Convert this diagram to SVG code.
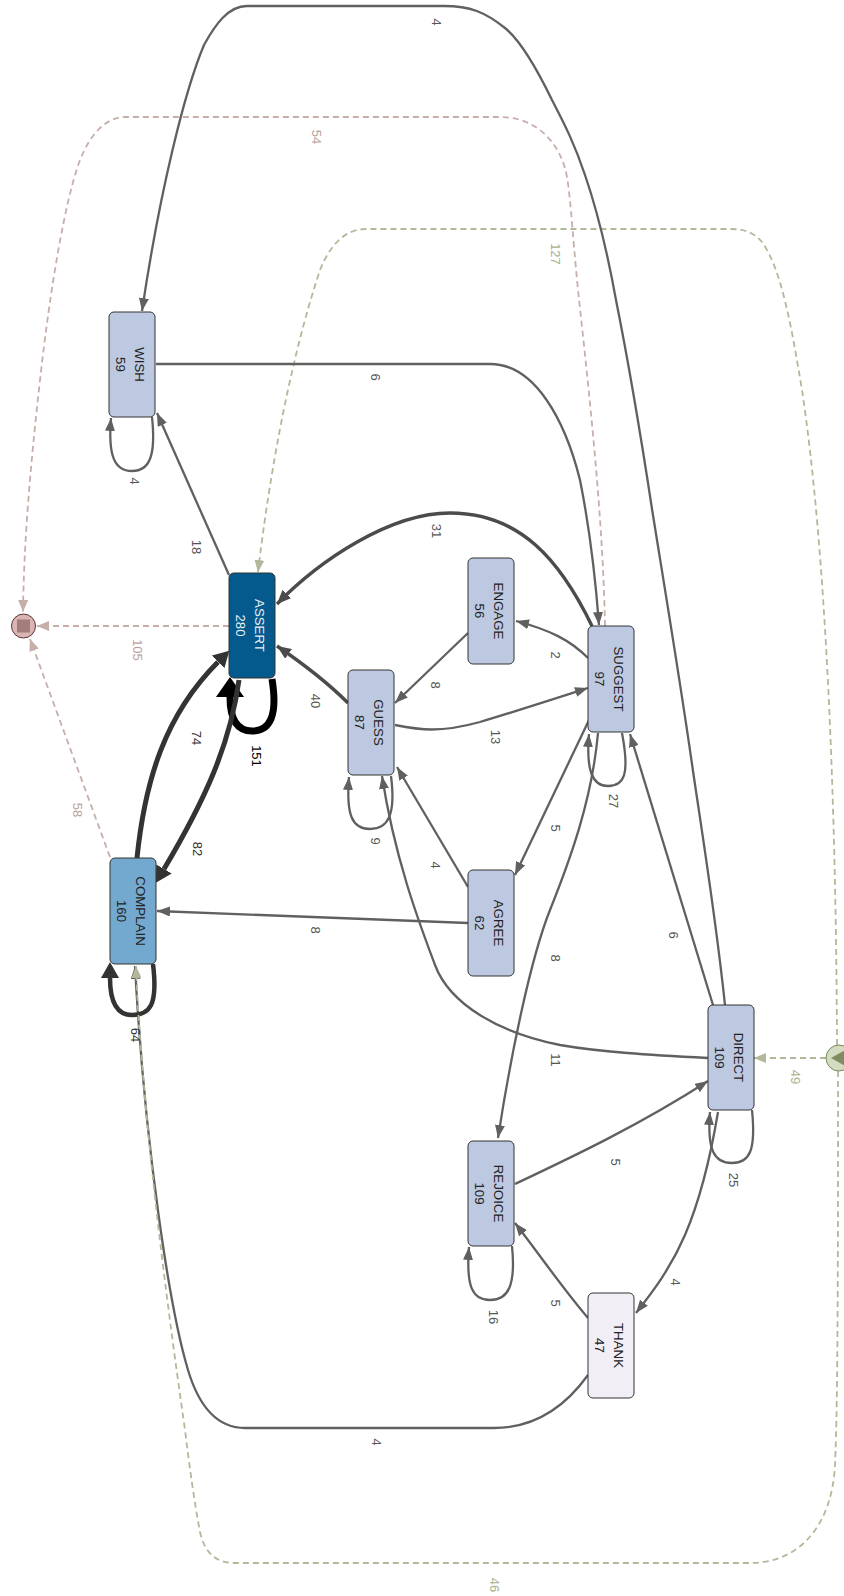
<svg xmlns="http://www.w3.org/2000/svg" width="844" height="1596" viewBox="0 0 844 1596">
<style>
.e{fill:none;stroke:#606060;stroke-width:2.3}
.e3{fill:none;stroke:#4b4b4b;stroke-width:3.4}
.ed{fill:none;stroke:#333;stroke-width:5}
.eb{fill:none;stroke:#000;stroke-width:7}
.ep{fill:none;stroke:#c6afa9;stroke-width:1.8;stroke-dasharray:6 4}
.eg{fill:none;stroke:#b1b99a;stroke-width:1.8;stroke-dasharray:6 4}
.n rect{stroke:#333;stroke-width:1}
.nl{fill:#bdc9e1}
.nt{font-family:"Liberation Sans",Arial,sans-serif;font-size:13.3px;fill:#222;text-anchor:middle}
.l{font-family:"Liberation Sans",Arial,sans-serif;font-size:13px;fill:#555;text-anchor:middle;dominant-baseline:central}
.lp{fill:#b9a19c}
.lg{fill:#a6b08e}
</style>
<defs>
<marker id="mg" markerUnits="userSpaceOnUse" viewBox="0 0 13 10" markerWidth="13" markerHeight="10" refX="13" refY="5" orient="auto"><path d="M0,0L13,5L0,10z" fill="#606060"/></marker>
<marker id="mg3" markerUnits="userSpaceOnUse" viewBox="0 0 14 12" markerWidth="14" markerHeight="12" refX="14" refY="6" orient="auto"><path d="M0,0L14,6L0,12z" fill="#4b4b4b"/></marker>
<marker id="md" markerUnits="userSpaceOnUse" viewBox="0 0 16 18" markerWidth="16" markerHeight="18" refX="0" refY="9" orient="auto"><path d="M0,0L16,9L0,18z" fill="#333"/></marker>
<marker id="mb" markerUnits="userSpaceOnUse" viewBox="0 0 20 28" markerWidth="20" markerHeight="28" refX="0" refY="14" orient="auto"><path d="M0,0L20,14L0,28z" fill="#000"/></marker>
<marker id="mp" markerUnits="userSpaceOnUse" viewBox="0 0 12 10" markerWidth="12" markerHeight="10" refX="12" refY="5" orient="auto"><path d="M0,0L12,5L0,10z" fill="#c6afa9"/></marker>
<marker id="mgr" markerUnits="userSpaceOnUse" viewBox="0 0 12 10" markerWidth="12" markerHeight="10" refX="12" refY="5" orient="auto"><path d="M0,0L12,5L0,10z" fill="#b1b99a"/></marker>
</defs>

<g id="connectors">
<path class="ep" marker-end="url(#mp)" d="M605,626 C603,520 590,400 578,290 C572,230 570,185 565,168 C555,135 530,117 500,117 L126,117 C105,117 90,135 80,160 C65,200 50,290 40,380 C30,470 24,540 23,612"/>
<path class="ep" marker-end="url(#mp)" d="M229,626 L37,626"/>
<path class="ep" marker-end="url(#mp)" d="M110,857 L30,639"/>
<path class="eg" marker-end="url(#mgr)" d="M837,1045 C836,800 826,550 802,390 C792,330 782,270 762,242 C754,233 745,229 731,229 L366,229 C345,229 330,245 320,270 C300,330 275,430 258,572"/>
<path class="eg" marker-end="url(#mgr)" d="M826,1058 L754,1058"/>
<path class="e" marker-end="url(#mg)" d="M725,1005 C715,910 700,820 692,764 C680,680 665,590 652,509 C640,430 628,360 616,300 C607,250 597,210 585,175 C575,145 565,125 552,100 C535,65 520,40 505,28 C485,12 470,6 444,6 L247,6 C228,6 215,25 204,45 C185,90 160,190 142,311"/>
<path class="e" marker-end="url(#mg)" d="M156,364 L490,364 C535,364 565,420 580,480 C590,530 596,585 599,625"/>
<path class="e" marker-end="url(#mg)" d="M229,575 L157,413"/>
<path class="e" marker-end="url(#mg)" d="M152,417 C156,455 150,471 132,471 C114,471 108,455 111,418"/>
<path class="e3" marker-end="url(#mg3)" d="M592,626 C560,560 520,513 450,513 C390,513 320,560 277,604"/>
<path class="e3" marker-end="url(#mg3)" d="M348,703 C330,685 305,665 277,646"/>
<path class="eb" marker-end="url(#mb)" d="M272,679 C278,716 270,731 252,731 C236,731 230,718 230,697"/>
<path class="ed" marker-end="url(#md)" d="M137,858 C145,780 165,715 218,662"/>
<path class="ed" marker-end="url(#md)" d="M239,680 C230,745 205,800 164,869"/>
<path class="e" marker-end="url(#mg)" d="M391,776 C396,815 388,829 370,829 C352,829 346,815 349,777"/>
<path class="e" marker-end="url(#mg)" d="M468,633 L395,703"/>
<path class="e" marker-end="url(#mg)" d="M395,725 C420,730 440,733 480,722 C520,710 560,697 588,688"/>
<path class="e" marker-end="url(#mg)" d="M588,658 C570,640 550,630 516,621"/>
<path class="e" marker-end="url(#mg)" d="M622,733 C630,775 624,786 608,786 C592,786 586,770 589,734"/>
<path class="e" marker-end="url(#mg)" d="M713,1005 L630,734"/>
<path class="e" marker-end="url(#mg)" d="M590,718 L515,875"/>
<path class="e" marker-end="url(#mg)" d="M598,733 C592,800 570,860 550,910 C530,960 510,1060 498,1138"/>
<path class="e" marker-end="url(#mg)" d="M468,887 L397,767"/>
<path class="e" marker-end="url(#mg)" d="M468,923 L157,911"/>
<path class="e" marker-end="url(#mg)" d="M708,1058 C650,1055 600,1052 560,1045 C500,1033 450,1005 435,965 C420,925 395,860 382,776"/>
<path class="e" marker-end="url(#mg)" d="M752,1110 C756,1150 750,1163 732,1163 C714,1163 707,1150 710,1112"/>
<path class="e" marker-end="url(#mg)" d="M515,1184 C570,1158 640,1125 708,1081"/>
<path class="e" marker-end="url(#mg)" d="M718,1112 C710,1160 700,1200 685,1235 C670,1270 650,1295 636,1313"/>
<path class="e" marker-end="url(#mg)" d="M588,1318 C560,1285 540,1255 515,1223"/>
<path class="e" marker-end="url(#mg)" d="M512,1246 C516,1286 508,1300 490,1300 C472,1300 466,1286 469,1247"/>
<path class="e" marker-end="url(#mg)" d="M588,1375 C570,1400 540,1428 494,1428 L245,1428 C220,1428 200,1410 188,1370 C170,1310 145,1150 135,966"/>
<path class="ed" style="stroke-width:4.5" marker-end="url(#md)" d="M153,964 C158,1005 150,1015 132,1015 C116,1015 110,1000 110,978"/>
<path class="eg" marker-end="url(#mgr)" d="M838,1071 C838,1250 838,1400 835,1465 C832,1525 800,1563 750,1563 L234,1563 C214,1563 204,1550 200,1532 C194,1500 190,1470 185,1430 C175,1360 160,1250 150,1150 C143,1080 138,1020 136,966"/>
<text class="l" transform="rotate(90 436 22)" x="436" y="22">4</text>
<text class="l lp" transform="rotate(90 316 137)" x="316" y="137">54</text>
<text class="l lg" transform="rotate(90 555 254)" x="555" y="254">127</text>
<text class="l" transform="rotate(90 375 377)" x="375" y="377">6</text>
<text class="l" transform="rotate(90 134 481)" x="134" y="481">4</text>
<text class="l" transform="rotate(90 196 547)" x="196" y="547">18</text>
<text class="l" transform="rotate(90 436 531)" x="436" y="531">31</text>
<text class="l" transform="rotate(90 555 655)" x="555" y="655">2</text>
<text class="l" transform="rotate(90 435 685)" x="435" y="685">8</text>
<text class="l lp" transform="rotate(90 137 650)" x="137" y="650">105</text>
<text class="l" transform="rotate(90 315 701)" x="315" y="701">40</text>
<text class="l" transform="rotate(90 495 737)" x="495" y="737">13</text>
<text class="l" style="fill:#000" transform="rotate(90 256 756)" x="256" y="756">151</text>
<text class="l" style="fill:#333" transform="rotate(90 196 738)" x="196" y="738">74</text>
<text class="l" transform="rotate(90 613 801)" x="613" y="801">27</text>
<text class="l lp" transform="rotate(90 77 810)" x="77" y="810">58</text>
<text class="l" transform="rotate(90 375 841)" x="375" y="841">9</text>
<text class="l" transform="rotate(90 555 828)" x="555" y="828">5</text>
<text class="l" style="fill:#333" transform="rotate(90 197 849)" x="197" y="849">82</text>
<text class="l" transform="rotate(90 435 865)" x="435" y="865">4</text>
<text class="l" transform="rotate(90 315 930)" x="315" y="930">8</text>
<text class="l" transform="rotate(90 555 958)" x="555" y="958">8</text>
<text class="l" transform="rotate(90 673 935)" x="673" y="935">6</text>
<text class="l" style="fill:#333" transform="rotate(90 135 1035)" x="135" y="1035">64</text>
<text class="l" transform="rotate(90 555 1060)" x="555" y="1060">11</text>
<text class="l lg" transform="rotate(90 795 1077)" x="795" y="1077">49</text>
<text class="l" transform="rotate(90 615 1162)" x="615" y="1162">5</text>
<text class="l" transform="rotate(90 733 1180)" x="733" y="1180">25</text>
<text class="l" transform="rotate(90 675 1282)" x="675" y="1282">4</text>
<text class="l" transform="rotate(90 555 1303)" x="555" y="1303">5</text>
<text class="l" transform="rotate(90 493 1317)" x="493" y="1317">16</text>
<text class="l" transform="rotate(90 376 1442)" x="376" y="1442">4</text>
<text class="l lg" transform="rotate(90 494 1585)" x="494" y="1585">46</text>
</g>

<g id="node-WISH" class="n"><rect class="nl" x="109" y="312" width="46" height="105" rx="5"/><g transform="translate(132,364.5) rotate(90)"><text class="nt" y="-3">WISH</text><text class="nt" y="16">59</text></g></g>
<g id="node-ASSERT" class="n"><rect x="229" y="573" width="46" height="105" rx="5" fill="#045a8d"/><g transform="translate(252,625.5) rotate(90)"><text class="nt" style="fill:#e8eef5" y="-3">ASSERT</text><text class="nt" style="fill:#e8eef5" y="16">280</text></g></g>
<g id="node-GUESS" class="n"><rect class="nl" x="348" y="670" width="46" height="105" rx="5"/><g transform="translate(371,722.5) rotate(90)"><text class="nt" y="-3">GUESS</text><text class="nt" y="16">87</text></g></g>
<g id="node-ENGAGE" class="n"><rect class="nl" x="468" y="558" width="46" height="106" rx="5"/><g transform="translate(491,611) rotate(90)"><text class="nt" y="-3">ENGAGE</text><text class="nt" y="16">56</text></g></g>
<g id="node-SUGGEST" class="n"><rect class="nl" x="588" y="626" width="46" height="106" rx="5"/><g transform="translate(611,679) rotate(90)"><text class="nt" y="-3">SUGGEST</text><text class="nt" y="16">97</text></g></g>
<g id="node-COMPLAIN" class="n"><rect x="110" y="858" width="46" height="106" rx="5" fill="#74a9cf"/><g transform="translate(133,911) rotate(90)"><text class="nt" y="-3">COMPLAIN</text><text class="nt" y="16">160</text></g></g>
<g id="node-AGREE" class="n"><rect class="nl" x="468" y="870" width="46" height="106" rx="5"/><g transform="translate(491,923) rotate(90)"><text class="nt" y="-3">AGREE</text><text class="nt" y="16">62</text></g></g>
<g id="node-DIRECT" class="n"><rect class="nl" x="708" y="1005" width="46" height="105" rx="5"/><g transform="translate(731,1057.5) rotate(90)"><text class="nt" y="-3">DIRECT</text><text class="nt" y="16">109</text></g></g>
<g id="node-REJOICE" class="n"><rect class="nl" x="468" y="1141" width="46" height="105" rx="5"/><g transform="translate(491,1193.5) rotate(90)"><text class="nt" y="-3">REJOICE</text><text class="nt" y="16">109</text></g></g>
<g id="node-THANK" class="n"><rect x="588" y="1293" width="46" height="105" rx="5" fill="#f1eef6"/><g transform="translate(611,1345.5) rotate(90)"><text class="nt" y="-3">THANK</text><text class="nt" y="16">47</text></g></g>
<g id="node-end"><circle cx="23.5" cy="626" r="12" fill="#d9b6b4" stroke="#5a3434" stroke-width="1"/><rect x="17" y="619.5" width="13" height="13" fill="#a27d7b"/></g>
<g id="node-start"><circle cx="839" cy="1058" r="13" fill="#d3dbc0" stroke="#7b8a5c" stroke-width="1"/><path d="M831,1058 L847,1049 L847,1067 z" fill="#7f8c62"/></g>
</svg>
